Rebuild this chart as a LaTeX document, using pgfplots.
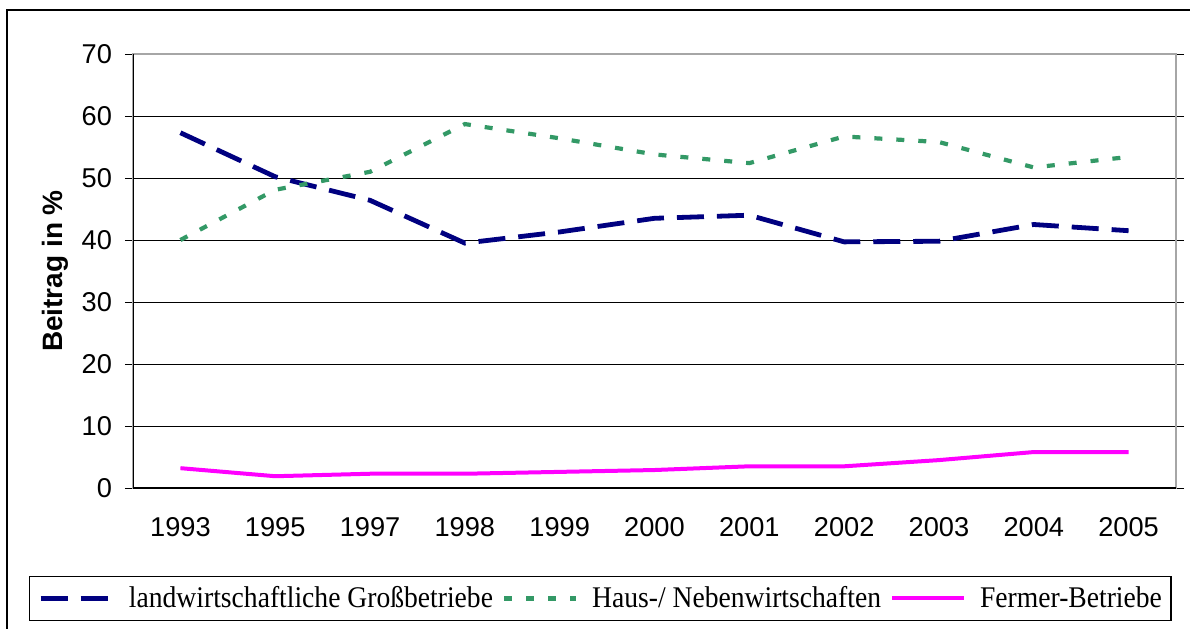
\documentclass[border=0pt]{standalone}
\usepackage{pgfplots}
\pgfplotsset{compat=1.18}
\usepackage{pgfplotstable}
\usepackage{fontspec}
\setmainfont{Liberation Sans}
\newfontfamily\legfont[FakeStretch=0.92]{Liberation Serif}
\definecolor{navyc}{HTML}{000080}
\definecolor{greenc}{HTML}{339966}
\definecolor{magc}{HTML}{FF00FF}
\pgfplotstableread{
x gross haus fermer
0 57.3 40.0 3.2
1 50.2 48.1 1.9
2 46.4 51.0 2.3
3 39.5 58.7 2.3
4 41.3 56.4 2.6
5 43.5 53.8 2.9
6 44.0 52.4 3.5
7 39.7 56.7 3.5
8 39.8 55.8 4.5
9 42.5 51.7 5.8
10 41.5 53.4 5.8
}\datatable
\begin{document}
\begin{tikzpicture}
\useasboundingbox (0,0) rectangle (595pt,314pt);
\draw[line width=0.6pt] (3.5pt,-1pt) -- (3.5pt,309pt) -- (596pt,309pt);
\begin{axis}[
  at={(66.5pt,70pt)}, anchor=south west,
  scale only axis, width=521.5pt, height=217pt,
  xmin=-0.5, xmax=10.5, ymin=0, ymax=70,
  xtick={0,...,10},
  xticklabels={1993,1995,1997,1998,1999,2000,2001,2002,2003,2004,2005},
  minor xtick={-0.5,0.5,...,10.5},
  ytick={0,10,...,70},
  tick align=outside,
  xtick style={draw=none},
  major tick length=4pt,
  minor tick length=3.5pt,
  tick style={black, line width=0.5pt},
  minor tick style={black, line width=0.5pt},
  ymajorgrids,
  major grid style={black, line width=0.5pt},
  axis line style={draw=gray!70, line width=1pt},
  ticklabel style={font=\fontsize{13.6}{15}\selectfont},
  /pgf/number format/assume math mode=true,
  xticklabel style={yshift=-7pt},
  yticklabel style={xshift=-3pt},
  ylabel={Beitrag in \%},
  ylabel style={at={(axis description cs:-0.0748,0.5)}, anchor=center, font=\fontsize{14}{16}\selectfont\bfseries},
  legend columns=3,
  legend cell align=left,
  legend image code/.code={\draw[#1] (0pt,0pt) -- (36pt,0pt);},
  legend style={at={(axis description cs:0.4478,-0.2546)}, anchor=center,
    draw=black, line width=0.6pt, inner xsep=4.5pt, inner ysep=3pt,
    font=\fontsize{15}{17}\selectfont\legfont,
    nodes={inner xsep=0pt, inner ysep=2pt},
    /tikz/every odd column/.append style={column sep=7pt},
    /tikz/every even column/.append style={column sep=4.5pt}},
]
\addplot[navyc, line width=2.4pt, dash pattern=on 13.5pt off 6.5pt] table[x=x, y=gross] {\datatable};
\addlegendentry{landwirtschaftliche Großbetriebe}
\addplot[greenc, line width=2.1pt, dash pattern=on 4pt off 7pt] table[x=x, y=haus] {\datatable};
\addlegendentry{Haus-/ Nebenwirtschaften}
\addplot[magc, line width=2pt] table[x=x, y=fermer] {\datatable};
\addlegendentry{Fermer-Betriebe}
\draw[black, line width=0.8pt] (rel axis cs:0,1) -- (rel axis cs:0,0) -- (rel axis cs:1,0);
\end{axis}
\end{tikzpicture}
\end{document}
